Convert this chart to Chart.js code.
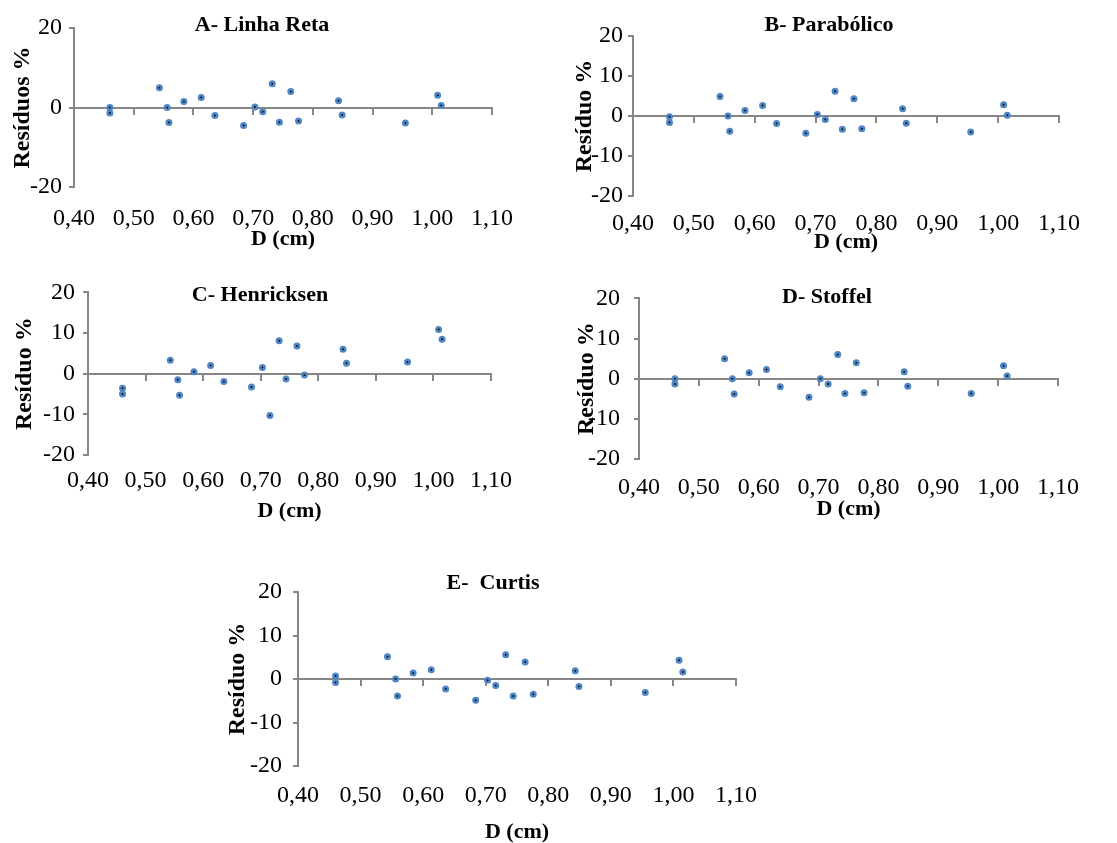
<!DOCTYPE html>
<html>
<head>
<meta charset="utf-8">
<script src="https://cdn.jsdelivr.net/npm/chart.js@4.4.0/dist/chart.umd.min.js"></script>
<style>
    html, body { margin: 0; padding: 0; background: #fff; overflow: hidden; }
    body { width: 1117px; height: 843px; position: relative; }
    .panel { position: absolute; }
</style>
</head>
<body>
<div class="panel" id="panelA"><canvas id="chartA"></canvas></div>
<div class="panel" id="panelB"><canvas id="chartB"></canvas></div>
<div class="panel" id="panelC"><canvas id="chartC"></canvas></div>
<div class="panel" id="panelD"><canvas id="chartD"></canvas></div>
<div class="panel" id="panelE"><canvas id="chartE"></canvas></div>
<script>
    // diametro (cm), igual para os cinco modelos
    const dValues = [0.460, 0.460, 0.543, 0.556, 0.559, 0.584, 0.613, 0.636, 0.684, 0.703,
                     0.716, 0.732, 0.744, 0.763, 0.776, 0.843, 0.849, 0.955, 1.009, 1.015];

    // residuos % por modelo
    const residuosA = [0.0, -1.4, 5.0, 0.0, -3.8, 1.5, 2.5, -2.0, -4.5, 0.1,
                       -1.1, 6.0, -3.7, 4.0, -3.4, 1.7, -1.9, -3.9, 3.1, 0.5];
    const residuosB = [-0.2, -1.6, 4.9, 0.0, -3.8, 1.4, 2.6, -1.9, -4.3, 0.4,
                       -0.9, 6.2, -3.3, 4.3, -3.2, 1.8, -1.8, -4.0, 2.8, 0.2];
    const residuosC = [-3.6, -5.0, 3.3, -1.5, -5.3, 0.5, 2.0, -1.9, -3.3, 1.5,
                       -10.3, 8.1, -1.3, 6.8, -0.3, 6.0, 2.6, 2.9, 10.9, 8.5];
    const residuosD = [0.0, -1.3, 5.0, 0.0, -3.8, 1.5, 2.3, -2.0, -4.6, 0.0,
                       -1.3, 6.0, -3.7, 4.0, -3.5, 1.7, -1.9, -3.7, 3.2, 0.7];
    const residuosE = [0.7, -0.8, 5.1, 0.0, -3.9, 1.4, 2.1, -2.3, -4.9, -0.3,
                       -1.5, 5.6, -3.9, 3.9, -3.5, 1.9, -1.7, -3.1, 4.3, 1.6];

    const titles = ['A- Linha Reta', 'B- Parabólico', 'C- Henricksen', 'D- Stoffel', 'E-  Curtis'];
    const yTitles = ['Resíduos %', 'Resíduo %', 'Resíduo %', 'Resíduo %', 'Resíduo %'];
    const xTicks = [0.4, 0.5, 0.6, 0.7, 0.8, 0.9, 1.0, 1.1];
    const yTicksA = [-20, 0, 20];
    const yTicks = [-20, -10, 0, 10, 20];

    const serif = "'Liberation Serif', 'Times New Roman', serif";
    const axisGray = '#868686';

    // title text drawn inside the canvas, at a given spot
    const panelTitle = {
        id: 'panelTitle',
        afterDraw(chart, args, opts) {
            const c = chart.ctx;
            c.save();
            c.font = `bold 22px ${serif}`;
            c.fillStyle = '#000';
            c.textAlign = 'center';
            c.textBaseline = 'middle';
            c.fillText(opts.text, opts.x, opts.y);
            c.restore();
        }
    };

    function makeChart(id, panelId, residuos, yTickList, i, box) {
        const panel = document.getElementById(panelId);
        panel.style.left = box.left + 'px';
        panel.style.top = box.top + 'px';
        const canvas = document.getElementById(id);
        canvas.width = box.w;
        canvas.height = box.h;

        return new Chart(canvas, {
            type: 'scatter',
            data: {
                datasets: [{
                    data: dValues.map((d, k) => ({ x: d, y: residuos[k] })),
                    pointRadius: 2.25,
                    pointHoverRadius: 2.25,
                    borderWidth: 2.5,
                    borderColor: '#4f86c6',
                    backgroundColor: '#111'
                }]
            },
            options: {
                responsive: false,
                animation: false,
                devicePixelRatio: 1,
                layout: { padding: { left: 0, right: 30, top: box.pt, bottom: 0 } },
                scales: {
                    x: {
                        type: 'linear',
                        position: 'bottom',
                        min: 0.4,
                        max: 1.1,
                        afterBuildTicks: s => { s.ticks = xTicks.map(v => ({ value: v })); },
                        afterFit: s => { s.height = box.xh; },
                        grid: { display: false },
                        border: { display: false },
                        ticks: {
                            padding: box.xpad,
                            color: '#000',
                            font: { family: serif, size: 24 },
                            maxRotation: 0,
                            callback: v => v.toFixed(2).replace('.', ',')
                        },
                        title: {
                            display: true,
                            text: 'D (cm)',
                            color: '#000',
                            font: { family: serif, size: 22, weight: 'bold' },
                            padding: { top: 0, bottom: 2 }
                        }
                    },
                    x0: {
                        axis: 'x',
                        type: 'linear',
                        position: { y: 0 },
                        min: 0.4,
                        max: 1.1,
                        afterBuildTicks: s => { s.ticks = xTicks.map(v => ({ value: v })); },
                        grid: { drawOnChartArea: false, drawTicks: true, tickLength: 6, color: axisGray, lineWidth: 2 },
                        border: { color: axisGray, width: 2 },
                        ticks: { display: false }
                    },
                    y: {
                        type: 'linear',
                        position: 'left',
                        min: -20,
                        max: 20,
                        afterBuildTicks: s => { s.ticks = yTickList.map(v => ({ value: v })); },
                        afterFit: s => { s.width = box.yw; },
                        grid: { drawOnChartArea: false, tickLength: 5, color: axisGray, lineWidth: 2 },
                        border: { color: axisGray, width: 2 },
                        ticks: {
                            padding: box.ypad,
                            color: '#000',
                            font: { family: serif, size: 24 },
                            callback: v => String(v)
                        },
                        title: {
                            display: true,
                            text: yTitles[i],
                            color: '#000',
                            font: { family: serif, size: 24, weight: 'bold' },
                            padding: { top: box.ytp, bottom: 0 }
                        }
                    }
                },
                plugins: {
                    legend: { display: false },
                    tooltip: { enabled: false },
                    panelTitle: { text: titles[i], x: box.tx, y: box.ty }
                }
            },
            plugins: [panelTitle]
        });
    }

    makeChart('chartA', 'panelA', residuosA, yTicksA, 0,
        { left: 0, top: 0, w: 522, h: 255, pt: 28, xh: 68, yw: 74, xpad: 9, ypad: 7, ytp: 8.6, tx: 262, ty: 25 });
    makeChart('chartB', 'panelB', residuosB, yTicks, 1,
        { left: 560, top: 0, w: 529, h: 258, pt: 36, xh: 62, yw: 73, xpad: 5, ypad: 5, ytp: 10, tx: 269, ty: 25 });
    makeChart('chartC', 'panelC', residuosC, yTicks, 2,
        { left: 0, top: 270, w: 521, h: 257, pt: 22, xh: 72, yw: 88, xpad: 3, ypad: 8, ytp: 10.6, tx: 260, ty: 25 });
    makeChart('chartD', 'panelD', residuosD, yTicks, 3,
        { left: 560, top: 270, w: 528, h: 255, pt: 28, xh: 66, yw: 79, xpad: 6, ypad: 14, ytp: 12.6, tx: 267, ty: 27 });
    makeChart('chartE', 'panelE', residuosE, yTicks, 4,
        { left: 220, top: 560, w: 546, h: 288, pt: 32, xh: 82, yw: 78, xpad: 7, ypad: 11, ytp: 3.6, tx: 273, ty: 23 });
</script>
</body>
</html>
